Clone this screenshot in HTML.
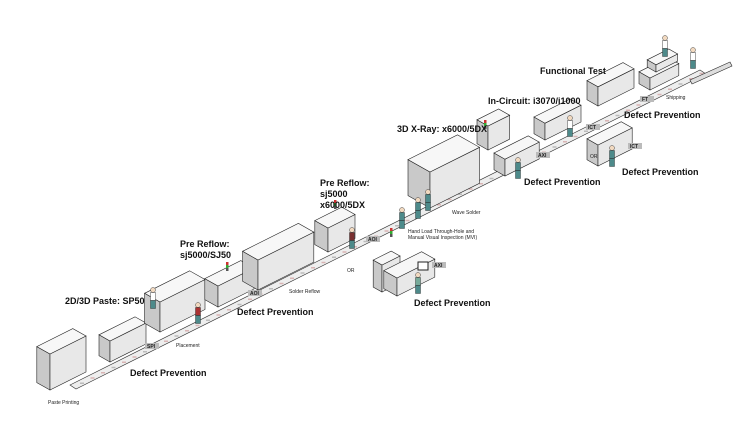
<!DOCTYPE html>
<html><head><meta charset="utf-8"><style>
html,body{margin:0;padding:0;background:#fff;}
svg{display:block;font-family:"Liberation Sans",sans-serif;}
.b{font-weight:bold;font-size:9px;fill:#111;}
.s{font-size:5px;fill:#222;}
.tag{font-size:5px;font-weight:bold;fill:#222;}
</style></head><body>
<svg id="s" width="750" height="435" viewBox="0 0 750 435" xmlns="http://www.w3.org/2000/svg">
<g id="g"></g>
<g id="t">
<text class="b" x="540" y="74">Functional Test</text>
<text class="b" x="488" y="104">In-Circuit: i3070/i1000</text>
<text class="b" x="397" y="132">3D X-Ray: x6000/5DX</text>
<text class="b" x="320" y="186">Pre Reflow:</text>
<text class="b" x="320" y="197">sj5000</text>
<text class="b" x="320" y="208">x6000/5DX</text>
<text class="b" x="180" y="247">Pre Reflow:</text>
<text class="b" x="180" y="258">sj5000/SJ50</text>
<text class="b" x="65" y="304">2D/3D Paste: SP50</text>
<text class="b" x="624" y="118">Defect Prevention</text>
<text class="b" x="622" y="175">Defect Prevention</text>
<text class="b" x="524" y="185">Defect Prevention</text>
<text class="b" x="414" y="306">Defect Prevention</text>
<text class="b" x="237" y="315">Defect Prevention</text>
<text class="b" x="130" y="376">Defect Prevention</text>
<text class="s" x="666" y="99">Shipping</text>
<text class="s" x="452" y="214">Wave Solder</text>
<text class="s" x="408" y="233">Hand Load Through-Hole and</text>
<text class="s" x="408" y="239">Manual Visual Inspection (MVI)</text>
<text class="s" x="289" y="293">Solder Reflow</text>
<text class="s" x="176" y="347">Placement</text>
<text class="s" x="48" y="404">Paste Printing</text>
<text class="s" x="347" y="272">OR</text>
<text class="s" x="590" y="158">OR</text>
</g>
</svg>
<script>
var g=document.getElementById('g'),NS='http://www.w3.org/2000/svg';
function el(t,a){var e=document.createElementNS(NS,t);for(var k in a)e.setAttribute(k,a[k]);g.appendChild(e);return e;}
function P(pts){return pts.map(function(p){return p[0].toFixed(1)+','+p[1].toFixed(1)}).join(' ');}
el('polygon',{points:P([[70,385],[700,70],[706,74],[76,389]]),fill:'#eee',stroke:'#333','stroke-width':0.6});
for(var i=0;i<60;i++){var x=80+i*10.5,y=384-i*5.25;el('rect',{x:x,y:y-1.5,width:4,height:1.5,fill:i%3?'#d8b4b4':'#bbb'});}
function box(x,y,w,d,h){
 w*=0.9;d*=0.55;h*=0.6;
 var A=[x,y],B=[x+w,y-w*0.5],dx=-0.8*d,dy=-0.45*d;
 var A2=[x,y-h],B2=[B[0],B[1]-h],C2=[B[0]+dx,B[1]-h+dy],D2=[x+dx,y-h+dy],D=[x+dx,y+dy];
 el('polygon',{points:P([D,A,A2,D2]),fill:'#c9c9c9',stroke:'#222','stroke-width':0.6});
 el('polygon',{points:P([A,B,B2,A2]),fill:'#e8e8e8',stroke:'#222','stroke-width':0.6});
 el('polygon',{points:P([A2,B2,C2,D2]),fill:'#f7f7f7',stroke:'#222','stroke-width':0.6});
}
function tag(x,y,t){el('rect',{x:x,y:y,width:14,height:6,fill:'#bbb'});var e=el('text',{x:x+2,y:y+5,'class':'tag'});e.textContent=t;}
function stack(x,y){el('rect',{x:x,y:y,width:2.5,height:9,fill:'#555'});el('rect',{x:x,y:y,width:2.5,height:3,fill:'#c33'});el('rect',{x:x,y:y+3,width:2.5,height:3,fill:'#3a3'});}
function person(x,y,c){el('circle',{cx:x,cy:y,r:2.5,fill:'#f1d9c0',stroke:'#222','stroke-width':0.4});el('rect',{x:x-2.5,y:y+2.5,width:5,height:8,fill:c||'#fff',stroke:'#222','stroke-width':0.4});el('rect',{x:x-2.5,y:y+10.5,width:5,height:8,fill:'#4d8a8a',stroke:'#222','stroke-width':0.4});}
box(50,390,40,30,60);
box(110,362,40,25,35);tag(145,343,'SPI');
box(160,332,50,35,50);person(153,290);person(198,305,'#a33');
box(218,307,40,30,35);tag(248,290,'AOI');stack(226,262);
box(258,290,62,35,50);
box(328,252,30,30,40);tag(366,236,'AOI');stack(334,200);person(352,230,'#7a3030');
box(382,292,20,20,45);box(397,296,42,30,30);tag(432,262,'AXI');stack(390,228);person(418,275,'#7a9');
el('rect',{x:418,y:262,width:10,height:8,fill:'#fff',stroke:'#222'});
box(430,208,55,50,60);
person(402,210,'#4d8a8a');person(418,200,'#4d8a8a');person(428,192,'#4d8a8a');
box(488,150,24,25,40);box(505,176,38,25,28);tag(536,152,'AXI');stack(484,120);person(518,160,'#4d8a8a');
box(545,140,40,25,28);tag(586,124,'ICT');person(570,118,'#fff');
box(598,166,38,25,35);tag(628,143,'ICT');person(612,148,'#4d8a8a');
box(598,106,40,25,32);tag(640,96,'FT');
box(650,90,32,25,20);box(656,72,24,20,12);person(665,38,'#fff');person(693,50,'#fff');
el('polygon',{points:P([[690,80],[730,62],[732,66],[692,84]]),fill:'#ddd',stroke:'#222','stroke-width':0.6});
</script>
</body></html>
